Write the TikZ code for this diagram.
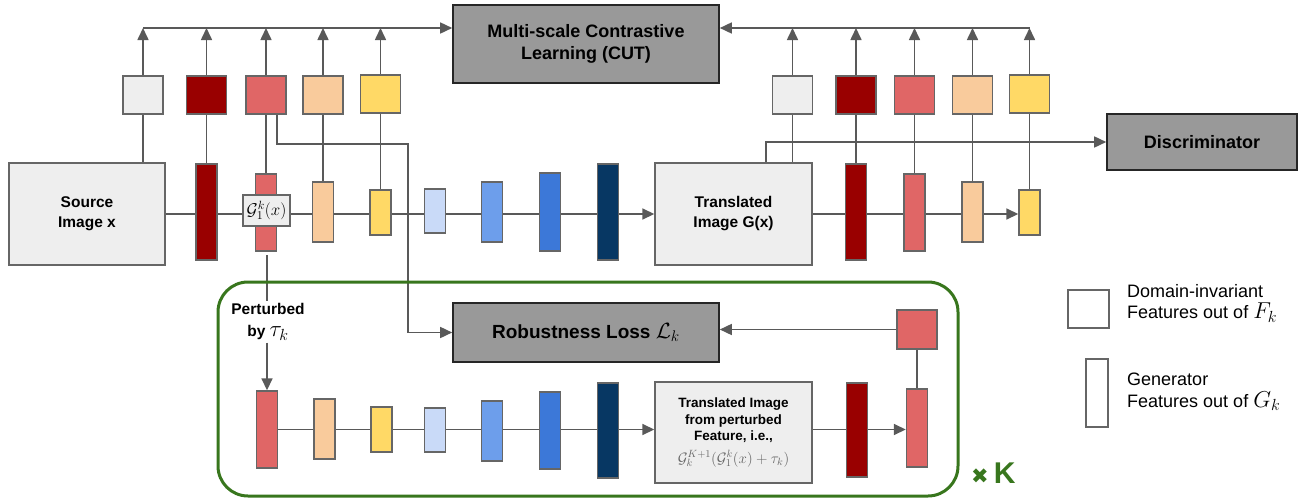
\documentclass[tikz,border=0pt]{standalone}
\usepackage{fix-cm}
\usepackage{fontspec}
\setmainfont{Liberation Sans}
\newfontfamily\djv{DejaVu Sans}
\usetikzlibrary{arrows.meta,backgrounds}
\definecolor{lgray}{HTML}{EEEEEE}
\definecolor{bgray}{HTML}{999999}
\definecolor{ln}{HTML}{595959}
\definecolor{bd}{HTML}{666666}
\definecolor{cdr}{HTML}{990000}
\definecolor{csal}{HTML}{E06666}
\definecolor{cpea}{HTML}{F9CB9C}
\definecolor{cyel}{HTML}{FFD966}
\definecolor{clb}{HTML}{C9DAF8}
\definecolor{cbl}{HTML}{6D9EEB}
\definecolor{cblb}{HTML}{3C78D8}
\definecolor{cnv}{HTML}{073763}
\definecolor{cgr}{HTML}{38761D}
\newcommand{\fsz}[2]{\fontsize{#1}{#2}\selectfont}
\begin{document}
\begin{tikzpicture}[x=1pt,y=-1pt,
  conn/.style={draw=ln, line width=1.6pt},
  arr/.style={conn, -{Triangle[length=12pt,width=11pt]}},
  feat/.style={draw=bd, line width=1.4pt, inner sep=0pt, minimum width=21pt},
  sqf/.style={draw=bd, line width=1.4pt, inner sep=0pt, minimum width=40pt, minimum height=38pt},
  imgbox/.style={draw=bd, line width=1.4pt, fill=lgray, inner sep=0pt, minimum width=156pt, minimum height=102pt, align=center, font=\bfseries\fsz{15.5}{20}},
  graybox/.style={draw=black!85, line width=1.6pt, fill=bgray, inner sep=0pt, align=center, font=\bfseries\fsz{18}{22}},
]
\useasboundingbox (0,0) rectangle (1299,498);

% green loop frame
\draw[cgr, line width=3pt, rounded corners=30pt] (218,282) rectangle (958,496);

% gray boxes
\node[graybox, minimum width=266pt, minimum height=78pt] (cut) at (586,44) {Multi-scale Contrastive\\Learning (CUT)};
\node[graybox, minimum width=190pt, minimum height=56pt] (disc) at (1202,142) {Discriminator};
\node[graybox, minimum width=266pt, minimum height=59pt, font=\bfseries\fsz{19}{22}] (rl) at (586,332.5) {Robustness Loss {\fsz{22}{22}$\mathcal{L}_k$}};

% image boxes
\node[imgbox] (src) at (87,214) {Source\\Image x};
\node[imgbox, minimum width=157pt] (trans) at (733.5,214) {Translated\\Image G(x)};
\node[imgbox, minimum width=157pt, minimum height=101pt, font=\bfseries\fsz{13.5}{16.5}] (tp) at (733.5,432.5)
  {Translated Image\\from perturbed\\Feature, i.e.,\\[6pt]{\mdseries\color{bd}\fsz{15}{15}$\mathcal{G}_k^{K+1}(\mathcal{G}_1^k(x)+\tau_k)$}};

% top squares (left)
\node[sqf, fill=lgray] (s1) at (143,95) {};
\node[sqf, fill=cdr]   (s2) at (206.5,95) {};
\node[sqf, fill=csal]  (s3) at (266,95) {};
\node[sqf, fill=cpea]  (s4) at (323,95) {};
\node[sqf, fill=cyel]  (s5) at (380.5,94) {};
% top squares (right)
\node[sqf, fill=lgray] (s6) at (792.5,95) {};
\node[sqf, fill=cdr]   (s7) at (856,95) {};
\node[sqf, fill=csal]  (s8) at (914.5,95) {};
\node[sqf, fill=cpea]  (s9) at (972.5,95) {};
\node[sqf, fill=cyel]  (s10) at (1029.5,94) {};

% main row bars
\node[feat, fill=cdr,  minimum height=96pt] (b1) at (206.5,212) {};
\node[feat, fill=csal, minimum height=77pt] (b2) at (266,212.5) {};
\node[feat, fill=cpea, minimum height=60pt] (b3) at (323,212) {};
\node[feat, fill=cyel, minimum height=45pt] (b4) at (380.5,212.5) {};
\node[feat, fill=clb,  minimum height=44pt] (b5) at (435,211) {};
\node[feat, fill=cbl,  minimum height=60pt] (b6) at (492,212) {};
\node[feat, fill=cblb, minimum height=78pt] (b7) at (550,212) {};
\node[feat, fill=cnv,  minimum height=96pt] (b8) at (608,212) {};
\node[draw=bd, line width=1.4pt, fill=lgray, inner sep=0pt, minimum width=47pt, minimum height=31pt] (g1) at (266.5,210.5) {\fsz{17}{17}$\mathcal{G}_1^k(x)$};
\node[feat, fill=cdr,  minimum height=96pt] (b9) at (856,212) {};
\node[feat, fill=csal, minimum height=77pt] (b10) at (914.5,212.5) {};
\node[feat, fill=cpea, minimum height=60pt] (b11) at (972.5,212) {};
\node[feat, fill=cyel, minimum height=45pt] (b12) at (1029.5,212.5) {};

% bottom row bars
\node[feat, fill=csal, minimum height=77pt] (c1) at (267,429.5) {};
\node[feat, fill=cpea, minimum height=60pt] (c2) at (324.5,429) {};
\node[feat, fill=cyel, minimum height=45pt] (c3) at (381.5,429.5) {};
\node[feat, fill=clb,  minimum height=44pt] (c4) at (435,430) {};
\node[feat, fill=cbl,  minimum height=60pt] (c5) at (492,431) {};
\node[feat, fill=cblb, minimum height=77pt] (c6) at (550,430.5) {};
\node[feat, fill=cnv,  minimum height=95pt] (c7) at (608,430.5) {};
\node[feat, fill=cdr,  minimum height=94pt] (c8) at (857,430) {};
\node[feat, fill=csal, minimum height=78pt] (c9) at (917,428) {};
\node[sqf, fill=csal, minimum height=39pt] (sqr) at (917,329.5) {};

% perturbed label
\node[align=center, font=\bfseries\fsz{15.5}{22}, inner sep=2pt] (pert) at (268,322) {Perturbed\\by {\mdseries\fsz{23}{23}$\tau_k$}};

% legend
\node[draw=bd, line width=1.4pt, fill=white, inner sep=0pt, minimum width=41pt, minimum height=38pt] (lsq) at (1088.5,309) {};
\node[draw=bd, line width=1.4pt, fill=white, inner sep=0pt, minimum width=22pt, minimum height=68pt] (lbar) at (1097,393) {};
\node[anchor=west, align=left, inner sep=0pt, font=\fsz{18}{21.5}] (lt1) at (1127,303) {Domain-invariant\\Features out of {\fsz{23}{23}$F_k$}};
\node[anchor=west, align=left, inner sep=0pt, font=\fsz{18}{21.5}] (lt2) at (1127,392) {Generator\\Features out of {\fsz{23}{23}$G_k$}};

% x K
\node[anchor=west, text=cgr, inner sep=0pt] (xk) at (971,473) {{\djv\fsz{21}{21}✖}\hspace{5pt}{\bfseries\fsz{30}{30}K}};

\coordinate (tl) at (143,28);
\coordinate (tr) at (1029.5,28);
\coordinate (r0) at (277,114);
\coordinate (d0) at (766,163);
\coordinate (p0) at (267,255);

\begin{pgfonlayer}{background}
% top collector lines
\draw[arr] (tl) -- (tl -| cut.west);
\draw[arr] (tr) -- (tr -| cut.east);
\foreach \s in {s1,s2,s3,s4,s5,s6,s7,s8,s9,s10}
  \draw[arr] (\s.north) -- (\s.north |- tl);
% squares to features
\draw[conn] (s1.south) -- (s1.south |- src.north);
\draw[conn] (s2.south) -- (b1.north);
\draw[conn] (s3.south) -- (b2.north);
\draw[conn] (s4.south) -- (b3.north);
\draw[conn] (s5.south) -- (b4.north);
\draw[conn] (s6.south) -- (s6.south |- trans.north);
\draw[conn] (s7.south) -- (b9.north);
\draw[conn] (s8.south) -- (b10.north);
\draw[conn] (s9.south) -- (b11.north);
\draw[conn] (s10.south) -- (b12.north);
% main row
\draw[conn] (src.east) -- (b8.east |- src.east);
\draw[arr] (b8.east |- src.east) -- (trans.west);
\draw[conn] (trans.east) -- (b11.east |- trans.east);
\draw[arr] (b11.east |- trans.east) -- (b12.west |- trans.east);
% discriminator
\draw[arr] (d0) |- (disc.west);
% robustness loss inputs
\draw[arr] (r0) -- (277,144) -- (408,144) |- (rl.west);
\draw[arr] (sqr.west) -- (sqr.west -| rl.east);
\draw[conn] (sqr.south) -- (c9.north);
% perturbation
\draw[conn] (p0) -- (pert.north -| p0);
\draw[arr] (pert.south -| c1.north) -- (c1.north);
% bottom row
\draw[conn] (c1.east) -- (c7.east |- c1.east);
\draw[arr] (c7.east |- c1.east) -- (tp.west |- c1.east);
\draw[conn] (tp.east |- c1.east) -- (c8.east |- c1.east);
\draw[arr] (c8.east |- c1.east) -- (c9.west |- c1.east);
\end{pgfonlayer}
\end{tikzpicture}
\end{document}
